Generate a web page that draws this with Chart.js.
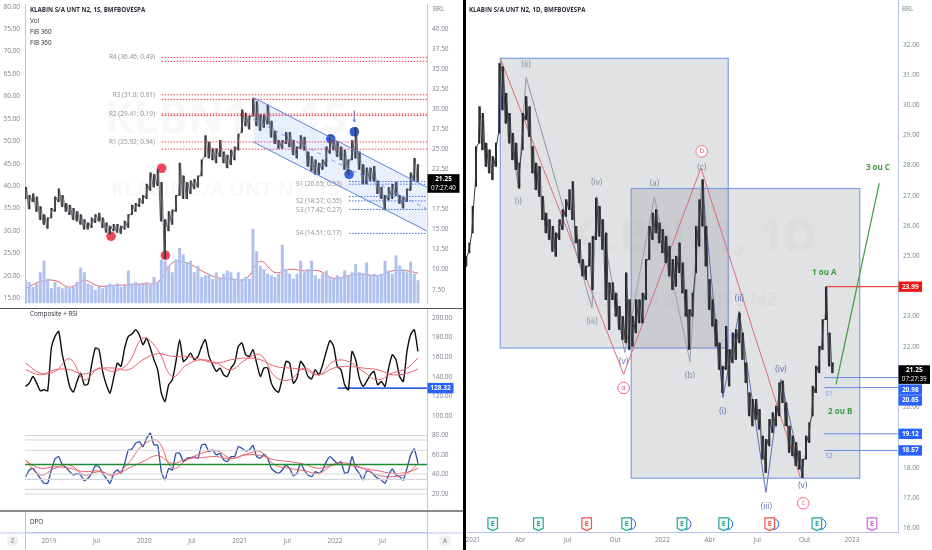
<!DOCTYPE html>
<html>
<head>
<meta charset="utf-8">
<script src="https://cdn.jsdelivr.net/npm/chart.js@4"></script>
<style>
  html, body { margin: 0; background: #fff; overflow: hidden; }
  canvas { position: absolute; }
  #divider { position: absolute; left: 463px; top: 0; width: 3px; height: 550px; background: #000; }
  .rule { position: absolute; left: 0; width: 463px; }
</style>
</head>
<body>
<canvas id="weeklyPrice" width="463" height="308" style="left:0;top:0"></canvas>
<canvas id="oscillators" width="463" height="202" style="left:0;top:308px"></canvas>
<canvas id="dpo" width="463" height="40" style="left:0;top:510px"></canvas>
<canvas id="dailyPrice" width="466" height="550" style="left:466px;top:0"></canvas>
<div class="rule" style="top:308px;height:1px;background:#555"></div>
<div class="rule" style="top:510px;height:2px;background:#8a8a8a"></div>
<div id="divider"></div>
<script>
// left panel, one bar every two weeks
const weekHigh = [20.27,19.26,19.46,19.06,17.85,16.85,16.44,17.65,19.06,20.07,19.26,18.25,18.05,17.65,17.25,16.85,16.24,15.84,16.44,16.85,17.05,16.44,15.84,15.44,15.64,15.64,15.44,16.04,16.85,18.05,18.25,18.86,19.26,20.67,22.08,21.88,22.48,20.87,16.24,17.25,17.45,19.26,23.29,21.68,20.87,21.07,21.27,21.68,23.69,26.71,25.91,25.10,25.10,26.11,24.70,24.29,24.90,25.30,26.91,29.93,29.53,29.13,31.34,30.94,29.33,29.33,30.54,28.52,27.31,26.11,26.11,27.11,27.11,26.11,25.30,26.71,26.51,24.70,24.09,23.69,23.29,23.69,25.30,26.71,26.31,25.91,25.30,24.90,23.69,26.11,27.72,24.70,23.09,22.68,22.68,22.88,21.07,20.27,19.26,20.27,20.67,20.87,19.26,19.06,20.07,22.08,23.89,23.09];
const weekLow = [18.86,17.57,18.46,17.25,16.24,15.64,15.15,16.44,17.25,18.46,17.85,17.25,16.85,16.24,16.04,15.64,15.03,15.03,15.24,15.84,16.04,15.24,14.63,14.43,14.83,14.63,14.51,15.03,15.24,16.85,17.25,17.85,18.25,18.86,19.86,20.27,20.47,16.04,11.41,14.83,15.64,17.25,19.26,18.86,18.86,19.46,20.07,20.27,21.68,24.09,23.89,23.69,23.29,24.09,23.29,22.68,23.09,23.69,24.90,27.11,27.92,27.52,29.13,27.92,27.31,27.72,28.12,26.51,25.70,25.10,25.10,25.70,25.30,24.29,23.89,25.10,24.90,22.88,22.28,21.88,21.88,22.48,22.88,24.50,24.90,24.09,23.69,22.48,21.88,23.69,23.89,22.48,20.67,20.67,21.07,21.07,19.46,18.86,17.45,18.66,18.86,19.26,18.25,17.65,18.46,19.86,21.07,20.95];
const weekVolume = [11.7,10.8,8.3,10,15.8,21.7,12.5,7.5,10.8,8.3,7.5,8.3,7.5,8.3,10.8,18.3,15.8,10,9.2,6.7,8.3,7.5,9.2,10,9.2,10,8.3,9.2,16.7,10,10.8,9.2,10,10.8,9.2,13.3,10.8,22.5,21.7,19.2,15.8,22.5,28.3,25,20.8,21.7,15.8,19.2,13.3,14.2,15,12.5,15.8,12.5,15,16.7,15.8,12.5,15.8,12.5,13.3,12.5,38.3,26.7,19.2,17.5,15,14.2,13.3,15,30,17.5,15,12.5,15,21.7,15.8,17.5,21.7,14.2,12.5,15,16.7,13.3,12.5,14.2,13.3,16.7,14.2,15.8,20,15.8,15,20.8,14.2,15,14.2,15,21.7,16.7,15,24.5,19.2,17.5,15.8,21.2,15,11.7];
const volumeAvg = [7.5,11.2,11.7,8.3,11.7,8.8,9.2,9.5,10,10.8,20.8,20.8,16.7,13.3,12.5,12.5,21.7,15.8,17.5,16.7,16.7,12.8,14.2,15,14.2,16.7,16.7,15.5];

const composite = [130.0,133.4,140.2,133.4,125.6,126.6,125.6,169.3,181.2,186.3,162.4,147.1,130.0,124.2,135.1,143.6,131.7,132.4,152.2,169.3,167.6,145.4,131.7,123.2,138.5,153.9,150.5,169.3,181.2,183.6,188.0,182.9,172.7,179.5,169.3,157.3,147.1,123.2,114.6,131.7,136.8,155.6,177.8,155.6,159.0,164.1,157.3,160.7,171.0,177.8,160.7,152.2,145.4,148.8,141.9,140.2,148.8,153.9,171.0,174.4,162.4,160.7,167.6,153.9,140.2,148.8,148.8,133.4,126.6,124.2,138.5,155.6,153.9,133.4,138.5,155.6,150.5,140.2,137.8,147.1,141.9,152.2,165.8,176.8,171.0,150.5,147.1,131.7,126.6,165.8,157.3,138.5,130.0,135.1,141.9,145.4,131.7,135.1,130.0,148.8,162.4,157.3,140.2,135.1,165.8,182.9,188.0,165.8];
const compositeSlow = [147.1,141.9,147.1,147.1,142.6,148.1,148.8,147.1,157.3,163.5,160.7,160.7,157.3,153.9,157.3,159.0,157.3,150.5,148.8,147.1,141.9,148.8,150.5,148.8,147.1,141.9,143.6,147.8];
const compositeFast = [153.9,143.6,145.4,158.3,136.8,148.8,145.4,153.9,179.5,167.6,140.2,152.2,157.3,153.9,147.1,157.3,162.4,140.2,136.8,148.8,141.9,155.6,155.6,145.4,136.8,143.6,148.8,159.0];
const rsi = [37.8,44.6,46.3,41.2,36.1,31.0,31.0,44.6,55.9,58.3,49.7,47.3,42.9,39.5,41.2,39.5,33.7,36.1,41.2,49.0,48.0,41.2,36.1,31.0,41.2,44.6,41.2,51.4,65.1,66.1,71.9,73.6,68.5,77.0,82.2,70.2,70.2,42.9,34.4,46.3,44.6,61.7,61.7,53.2,56.6,57.3,58.3,56.6,70.2,70.9,63.4,65.1,60.0,61.7,54.9,53.2,58.3,58.3,68.5,66.8,64.1,65.1,69.6,58.3,56.6,60.7,56.6,46.3,42.9,41.2,44.6,49.7,46.3,38.8,41.2,51.4,44.6,39.5,37.8,42.9,41.2,44.6,53.2,58.3,54.9,51.4,53.2,41.2,42.9,58.3,46.3,41.2,34.4,43.6,42.9,39.5,36.1,34.4,31.0,39.5,45.6,39.5,37.8,34.4,46.3,60.0,66.1,51.4];
const rsiSlow = [53.8,46.3,48.0,46.3,42.9,43.6,39.5,46.3,53.2,59.3,51.4,55.9,57.3,58.3,55.9,60.0,59.3,54.9,53.2,50.4,46.3,49.7,49.7,46.3,43.9,41.2,42.2,46.3];
const rsiFast = [54.9,39.5,46.3,49.7,39.5,42.9,39.5,51.4,70.2,74.3,46.3,54.9,61.7,64.4,56.6,60.7,63.4,49.7,46.3,43.9,41.2,50.4,51.4,46.3,39.5,37.8,41.2,51.4];
const rsiBands = [79.8,75.3,64.8,40.5,35,24.8,20];

const leftAxisTicks = [80,75,70,65,60,55,50,45,40,35,30,25,20,15];
const weekAxisTicks = [40,37.5,35,32.5,30,27.5,25,22.5,20,17.5,15,12.5,10,7.5];
const oscAxisTicks = [200,180,160,140,120,100,80,60,40,20];
const weekDates = [2019,2019.5,2020,2020.5,2021,2021.5,2022,2022.5];
const weekDateLabels = ["2019","Jul","2020","Jul","2021","Jul","2022","Jul"];

const resistanceNames = ["R4 (36.46; 0.49)","R3 (31.8; 0.61)","R2 (29.41; 0.19)","R1 (25.92; 0.94)"];
const resistanceLevels = [36.46,31.8,29.41,25.92];
const resistanceTwins = [35.97,31.22,29.21,25.02];
const supportNames = ["S1 (20.65; 0.53)","S2 (18.57; 0.55)","S3 (17.42; 0.27)","S4 (14.51; 0.17)"];
const supportLevels = [20.65,18.57,17.5,14.51];
const supportTwins = [20.98,19.12,null,null];

const channelDates = [2021.144,2022.963];
const channelUpper = [31.46,20.27];
const channelMiddle = [28.72,17.57];
const channelLower = [25.91,14.83];
const redDots = [[2019.651,14.15],[2020.182,22.64],[2020.221,11.77]];
const blueDots = [[2021.956,26.31],[2022.148,21.88],[2022.204,27.19]];

// right panel
const dayHigh = [24.99,25.44,26.65,28.63,29.95,29.73,28.74,28.52,28.30,28.74,31.38,31.27,30.39,29.73,29.07,28.74,28.08,29.73,30.28,29.95,28.63,28.08,27.97,26.98,26.43,26.21,25.99,25.77,26.21,26.54,26.87,27.20,27.47,25.99,25.55,24.89,24.67,25.44,25.66,26.92,26.65,26.21,25.77,24.12,24.12,23.78,23.34,23.01,24.45,23.56,23.01,23.56,23.56,23.78,24.89,25.99,26.43,26.54,26.10,25.88,25.66,25.33,24.89,25.00,25.44,24.78,23.89,23.23,23.78,25.99,26.87,27.53,25.99,24.23,23.56,22.90,22.13,21.36,22.68,21.91,22.46,22.57,23.12,22.46,21.47,20.48,20.26,20.26,19.93,19.05,18.94,19.60,19.82,20.04,20.81,20.87,20.15,19.38,19.05,18.83,18.55,18.28,19.05,19.49,20.70,21.36,22.02,22.90,23.98,22.46,21.47];
const dayLow = [24.67,25.11,25.77,27.31,28.74,28.52,27.97,27.75,27.53,27.97,29.07,29.84,29.40,28.74,28.19,27.86,27.25,28.52,29.51,28.96,27.75,27.20,26.98,26.21,25.77,25.55,25.16,24.99,25.55,25.88,26.32,26.54,26.21,25.44,24.78,24.34,24.23,24.67,23.89,25.55,25.66,25.22,23.56,22.57,23.56,23.01,22.57,22.24,22.13,21.91,22.02,22.46,22.79,22.79,23.56,24.89,25.55,25.77,25.44,25.11,24.78,24.34,23.89,24.00,24.45,23.78,23.01,21.91,23.01,24.45,25.33,25.99,24.67,23.23,22.68,22.02,21.25,20.48,21.25,20.70,21.47,21.58,22.13,21.58,20.81,19.71,19.38,19.60,19.27,18.28,17.84,18.72,19.16,19.38,19.71,20.15,19.38,18.50,18.39,18.06,17.95,17.67,18.28,18.83,19.71,20.48,21.14,21.91,22.90,21.36,21.14];
const dayAxisTicks = [32,31,30,29,28,27,26,25,24,23,22,21,20,19,18,17,16];
const dayDates = [2021,2021.25,2021.5,2021.75,2022,2022.25,2022.5,2022.75,2023];
const dayDateLabels = ["2021","Abr","Jul","Out","2022","Abr","Jul","Out","2023"];

const waveA = [[2021.144,31.55],[2021.795,21.09],[2022.203,27.92],[2022.727,17.68]];
const waveAbc = [[2021.801,21.82],[2021.957,26.96],[2022.145,21.51],[2022.207,27.53]];
const waveImpulse1 = [[2021.144,31.55],[2021.239,27.26],[2021.280,30.92],[2021.628,23.29],[2021.653,26.98],[2021.801,21.80]];
const waveImpulse2 = [[2022.207,27.53],[2022.319,20.32],[2022.405,23.18],[2022.546,17.18],[2022.625,20.92],[2022.740,17.68]];
const forecast = [[2022.916,20.76],[2023.144,27.42]];
const dayLevels = [20.98,20.65,19.12,18.57];
const earningsDates = [2021.104,2021.345,2021.600,2021.811,2022.103,2022.323,2022.566,2022.815,2023.106];
const earningsKinds = ["g","g","r","g","g","g","r","g","p"];
const earningsDividend = [0,0,0,1,1,1,1,1,0];

const FONT = '"Open Sans", sans-serif';
const AXIS = "#7b7f8c";
const EDGE = "#b9c4ee";
const SMALL = "6.3px " + FONT;
const weekX = (i) => 2018.755 + i * 0.03847;
const avgIdx = [0,4,8,12,16,20,24,28,32,36,40,44,48,52,56,60,64,68,72,76,80,84,88,92,96,100,104,107];
const dayX = (i) => 2020.963 + i * 0.01759;

const line = (pts, color, width, extra) => Object.assign({
  type: "line", data: pts.map((p) => ({ x: p[0], y: p[1] })), borderColor: color, borderWidth: width,
  pointRadius: 0, tension: 0, fill: false,
}, extra);

// low/high of each bar as one jagged path so the gaps between bars close up
const zigzag = (lows, highs, xOf, half) => {
  const pts = [];
  lows.forEach((lo, i) => {
    pts.push([xOf(i) - half, lo]);
    pts.push([xOf(i) + half, highs[i]]);
  });
  return pts;
};

const noPad = (s) => { s.paddingTop = 0; s.paddingBottom = 0; s.paddingLeft = 0; s.paddingRight = 0; };

// boxes, text, tags etc, all anchored on the chart scales
const notes = (cfg) => ({
  id: "notes",
  beforeDatasetsDraw(chart) {
    const { ctx } = chart;
    ctx.save();
    (cfg.water || []).forEach((w) => {
      ctx.font = w.font; ctx.fillStyle = "rgba(120,123,134,0.055)";
      ctx.textAlign = "center"; ctx.textBaseline = "middle";
      ctx.fillText(w.text, w.x, w.y);
    });
    const sx = chart.scales.x, sy = chart.scales.y;
    (cfg.boxes || []).forEach((b) => {
      const x = sx.getPixelForValue(b[0]), y = sy.getPixelForValue(b[1]);
      const w = sx.getPixelForValue(b[2]) - x, h = sy.getPixelForValue(b[3]) - y;
      ctx.fillStyle = "rgba(120,123,134,0.22)";
      ctx.fillRect(x, y, w, h);
      ctx.strokeStyle = "#7d9ee6"; ctx.lineWidth = 1.2;
      ctx.strokeRect(x, y, w, h);
    });
    ctx.restore();
  },
  afterDraw(chart) {
    const { ctx, chartArea: a } = chart;
    const sx = chart.scales.x, sy = chart.scales.y;
    ctx.save();
    (cfg.rings || []).forEach((r) => {
      const x = sx.getPixelForValue(r.x), y = sy.getPixelForValue(r.y);
      ctx.beginPath(); ctx.arc(x, y, 5.8, 0, Math.PI * 2);
      ctx.fillStyle = "#fff"; ctx.fill();
      ctx.strokeStyle = "#ec6a80"; ctx.lineWidth = 1; ctx.stroke();
      ctx.fillStyle = "#e0607a"; ctx.font = "7.5px " + FONT;
      ctx.textAlign = "center"; ctx.textBaseline = "middle";
      ctx.fillText(r.text, x, y);
    });
    (cfg.labels || []).forEach((l) => {
      ctx.fillStyle = l.color; ctx.font = l.font;
      ctx.textAlign = l.align || "center"; ctx.textBaseline = "middle";
      ctx.fillText(l.text, sx.getPixelForValue(l.x), sy.getPixelForValue(l.y));
    });
    (cfg.earnings || []).forEach((e) => {
      const x = sx.getPixelForValue(e.x), y = sy.getPixelForValue(16.13);
      const c = { g: "#26a69a", r: "#ef5350", p: "#d667e4" }[e.kind];
      if (e.dividend) {
        ctx.beginPath(); ctx.arc(x + 3.5, y, 5.5, 0, Math.PI * 2);
        ctx.fillStyle = "#fff"; ctx.fill();
        ctx.strokeStyle = "#2962ff"; ctx.lineWidth = 1; ctx.stroke();
      }
      ctx.beginPath();
      ctx.moveTo(x - 4.8, y - 6.3); ctx.lineTo(x + 4.8, y - 6.3); ctx.lineTo(x + 4.8, y + 4.2);
      ctx.lineTo(x, y + 6.5); ctx.lineTo(x - 4.8, y + 4.2); ctx.closePath();
      ctx.fillStyle = "#f4f8f7"; ctx.fill();
      ctx.strokeStyle = c; ctx.lineWidth = 1.2; ctx.stroke();
      ctx.fillStyle = c; ctx.font = "bold 7px " + FONT;
      ctx.textAlign = "center"; ctx.textBaseline = "middle";
      ctx.fillText("E", x, y - 0.5);
    });
    (cfg.tags || []).forEach((t) => {
      const y = sy.getPixelForValue(t.y) + (t.shift || 0);
      const h = t.sub ? 18.6 : 10.4, top = t.sub ? y - 5.2 : y - h / 2;
      ctx.fillStyle = t.bg;
      ctx.fillRect(a.right + 0.5, top, t.w, h);
      ctx.fillStyle = "#fff"; ctx.font = "bold 6.5px " + FONT;
      ctx.textAlign = "center"; ctx.textBaseline = "middle";
      const mid = a.right + 0.5 + t.w / 2;
      ctx.fillText(t.text, mid, t.sub ? y : y + 0.2);
      if (t.sub) {
        ctx.font = "6.3px " + FONT;
        ctx.fillText(t.sub, mid, y + 8.4);
      }
    });
    (cfg.free || []).forEach((f) => {
      ctx.fillStyle = f.color; ctx.font = f.font;
      ctx.textAlign = f.align || "left"; ctx.textBaseline = "middle";
      ctx.fillText(f.text, f.x, f.y);
    });
    ctx.restore();
  },
});

const xScale = (min, max) => ({ type: "linear", min, max, offset: false, display: false, grid: { display: false } });
const tickFont = { family: "Open Sans", size: 6.5 };
const priceAxis = (position, min, max, ticks, width, digits) => ({
  type: "linear", position, min, max, display: true,
  grid: { display: false, drawTicks: false },
  border: { display: true, color: EDGE, width: 1 },
  afterBuildTicks: (s) => { s.ticks = ticks.map((v) => ({ value: v })); },
  afterFit: (s) => { s.width = width; noPad(s); },
  ticks: { color: AXIS, font: tickFont, padding: 5, autoSkip: false, maxRotation: 0,
    callback: (v) => Number(v).toFixed(digits) },
});
const dateAxis = (min, max, dates, labels, height, pad) => ({
  type: "linear", min, max, offset: false,
  grid: { display: false, drawTicks: false },
  border: { display: true, color: EDGE },
  afterBuildTicks: (s) => { s.ticks = dates.map((v) => ({ value: v })); },
  afterFit: (s) => { s.height = height; noPad(s); },
  ticks: { color: AXIS, font: tickFont, padding: pad, maxRotation: 0, autoSkip: false,
    callback: (v) => labels[dates.indexOf(v)] },
});
const base = {
  responsive: false, animation: false, events: [],
  plugins: { legend: { display: false }, tooltip: { enabled: false } },
};

// ---- weekly price
const fibStart = 2020.182, fibEnd = 2022.97, supStart = 2022.148;
const fibLines = [];
resistanceLevels.concat(resistanceTwins).forEach((v) => {
  fibLines.push(line([[fibStart, v], [fibEnd, v]], "#ec3b47", 1, { yAxisID: "y", borderDash: [1.5, 1.5] }));
});
supportLevels.concat(supportTwins).forEach((v) => {
  if (v === null) return;
  fibLines.push(line([[supStart, v], [fibEnd, v]], "#3f6fe0", 1, { yAxisID: "y", borderDash: [1.5, 1.5] }));
});
const fibLabels = [];
resistanceNames.forEach((t, i) => fibLabels.push({ text: t, x: 2020.112, y: resistanceLevels[i], color: "#8a8d98", font: "6.5px " + FONT, align: "right" }));
supportNames.forEach((t, i) => fibLabels.push({ text: t, x: 2022.071, y: [20.65, 18.57, 17.42, 14.51][i], color: "#8a8d98", font: "6.5px " + FONT, align: "right" }));

new Chart(document.getElementById("weeklyPrice"), {
  data: {
    datasets: [
      { type: "bar", yAxisID: "v", grouped: false, barThickness: 2.3, backgroundColor: "#adc0ef",
        data: weekVolume.map((v, i) => ({ x: weekX(i), y: v })) },
      line(avgIdx.map((k, i) => [weekX(k), volumeAvg[i]]), "#e2626c", 1, { yAxisID: "v", tension: 0.4 }),
      line(channelDates.map((d, i) => [d, channelUpper[i]]), "#5f82d8", 1, { yAxisID: "y", fill: "+1", backgroundColor: "rgba(90,130,230,0.13)" }),
      line(channelDates.map((d, i) => [d, channelLower[i]]), "#5f82d8", 1, { yAxisID: "y" }),
      line(channelDates.map((d, i) => [d, channelMiddle[i]]), "#7d9ae0", 1, { yAxisID: "y", borderDash: [4, 4] }),
      ...fibLines,
      line(zigzag(weekLow, weekHigh, weekX, 0.0096), "#55575c", 0.9, { yAxisID: "y" }),
      { type: "bar", yAxisID: "y", grouped: false, barThickness: 1.2, backgroundColor: "#2c2d31",
        data: weekHigh.map((h, i) => ({ x: weekX(i), y: [weekLow[i], h] })) },
      line([[2022.204, 29.81], [2022.204, 28.7]], "#7d9ae0", 1, { yAxisID: "y" }),
      line([[2022.204, 28.6]], "#5f82d8", 1, { yAxisID: "y", pointRadius: 2, pointStyle: "triangle", rotation: 180, pointBackgroundColor: "#5f82d8", pointBorderWidth: 0 }),
      line(redDots, "#ef3f4b", 0, { yAxisID: "y", showLine: false, pointRadius: 4.8, pointBackgroundColor: "rgba(238,55,70,0.92)", pointBorderWidth: 0 }),
      line(blueDots, "#1e50dc", 0, { yAxisID: "y", showLine: false, pointRadius: 4.8, pointBackgroundColor: "rgba(30,80,220,0.92)", pointBorderWidth: 0 }),
    ],
  },
  options: {
    ...base,
    scales: {
      x: xScale(2018.748, 2022.966),
      l: priceAxis("left", 13.9, 80.43, leftAxisTicks, 25, 2),
      y: priceAxis("right", 5.81, 43.02, weekAxisTicks, 36, 2),
      v: { type: "linear", min: 0, max: 154, display: false },
    },
  },
  plugins: [notes({
    water: [
      { text: "KLBN11, 1S", x: 226, y: 120, font: "bold 44px " + FONT },
      { text: "KLABIN S/A UNT N2, 1S", x: 225, y: 190, font: "bold 20px " + FONT },
    ],
    labels: fibLabels,
    tags: [{ y: 21.25, text: "21.25", sub: "07:27:40", bg: "#000", w: 32 }],
    free: [
      { text: "KLABIN S/A UNT N2, 1S, BMFBOVESPA", x: 30, y: 10, color: "#2a2e39", font: "bold 6.2px " + FONT },
      { text: "Vol", x: 30, y: 21, color: "#2a2e39", font: SMALL },
      { text: "FIB 360", x: 30, y: 32, color: "#2a2e39", font: SMALL },
      { text: "FIB 360", x: 30, y: 43, color: "#2a2e39", font: SMALL },
      { text: "BRL", x: 433, y: 9, color: AXIS, font: SMALL },
    ],
  })],
});

// ---- composite + rsi
const bandLines = rsiBands.map((v) => line([[2018.748, v], [2022.966, v]], "#d4d5d9", 1.1));
new Chart(document.getElementById("oscillators"), {
  data: {
    datasets: [
      ...bandLines,
      line([[2018.748, 50.1], [2022.966, 50.1]], "#1d8a2e", 1.5),
      line(avgIdx.map((k, i) => [weekX(k), compositeSlow[i]]), "#e8626c", 1, { tension: 0.4 }),
      line(avgIdx.map((k, i) => [weekX(k), compositeFast[i]]), "#e8626c", 1, { tension: 0.4 }),
      line(composite.map((v, i) => [weekX(i), v]), "#0c0c0c", 1.4, { tension: 0.2 }),
      line([[2022.03, 128.32], [2022.966, 128.32]], "#2f66dc", 1.7),
      line(avgIdx.map((k, i) => [weekX(k), rsiSlow[i]]), "#e8626c", 1, { tension: 0.4 }),
      line(avgIdx.map((k, i) => [weekX(k), rsiFast[i]]), "#e8626c", 1, { tension: 0.4 }),
      line(rsi.map((v, i) => [weekX(i), v]), "#2a4fa6", 1.3, { tension: 0.15 }),
    ],
  },
  options: {
    ...base,
    layout: { padding: { left: 25 } },
    scales: {
      x: xScale(2018.748, 2022.966),
      y: priceAxis("right", 3.7, 210.2, oscAxisTicks, 36, 2),
    },
  },
  plugins: [notes({
    tags: [{ y: 128.32, text: "128.32", bg: "#2962ff", w: 26 }],
    free: [{ text: "Composite + RSI", x: 30, y: 6.5, color: "#2a2e39", font: SMALL }],
  })],
});

// ---- dpo strip and date axis
new Chart(document.getElementById("dpo"), {
  data: { datasets: [line([], "#000", 0)] },
  options: {
    ...base,
    layout: { padding: { left: 25, right: 36 } },
    scales: {
      x: dateAxis(2018.748, 2022.966, weekDates, weekDateLabels, 17.5, 5),
      y: { display: false, min: 0, max: 1 },
    },
  },
  plugins: [{
    id: "strip",
    afterDraw(chart) {
      const { ctx, chartArea: a } = chart;
      ctx.save();
      ctx.strokeStyle = EDGE; ctx.beginPath();
      ctx.moveTo(a.left + 0.5, 2); ctx.lineTo(a.left + 0.5, 40);
      ctx.moveTo(a.right + 0.5, 2); ctx.lineTo(a.right + 0.5, 40);
      ctx.moveTo(0, a.bottom + 0.5); ctx.lineTo(463, a.bottom + 0.5);
      ctx.stroke();
      ctx.fillStyle = "#2a2e39"; ctx.font = SMALL;
      ctx.textBaseline = "middle"; ctx.textAlign = "left";
      ctx.fillText("DPO", 30, 12);
      [[12.5, "Z"], [445, "A"]].forEach(([x, t]) => {
        ctx.beginPath(); ctx.arc(x, 31, 6, 0, Math.PI * 2);
        ctx.fillStyle = "#eef0f3"; ctx.fill();
        ctx.fillStyle = "#7b7f8c"; ctx.textAlign = "center";
        ctx.fillText(t, x, 31);
      });
      ctx.restore();
    },
  }],
});

// ---- daily price with the wave count
const blueText = "#5a6bb0", grayText = "#8088a4";
const waveFont = "8.3px " + FONT, greenFont = "bold 8px " + FONT;
const dayLine = (v, from, color) => line([[from, v], [2023.243, v]], color, 1);

new Chart(document.getElementById("dailyPrice"), {
  data: {
    datasets: [
      line(zigzag(dayLow, dayHigh, dayX, 0.0044), "#3a3b40", 1),
      { type: "bar", grouped: false, barThickness: 1.3, backgroundColor: "#1e1f23",
        data: dayHigh.map((h, i) => ({ x: dayX(i), y: [dayLow[i], h] })) },
      line(waveImpulse1, "#8f93ab", 1),
      line(waveAbc, "#9a9db0", 1),
      line(waveImpulse2, "#5d6fb8", 1),
      line(waveA, "#e2687e", 1),
      line(forecast, "#3f9c3f", 1.2),
      dayLine(23.99, 2022.863, "#ee2020"),
      ...dayLevels.map((v) => dayLine(v, 2022.854, "#5f8ae8")),
    ],
  },
  options: {
    ...base,
    scales: {
      x: dateAxis(2020.963, 2023.243, dayDates, dayDateLabels, 18, 4),
      y: priceAxis("right", 15.87, 33.48, dayAxisTicks, 34, 2),
    },
  },
  plugins: [notes({
    water: [
      { text: "KLBN11, 1D", x: 225, y: 238, font: "bold 44px " + FONT },
      { text: "KLABIN S/A UNT N2", x: 215, y: 300, font: "bold 20px " + FONT },
    ],
    boxes: [[2021.144, 31.55, 2022.347, 21.96], [2021.835, 27.24, 2023.041, 17.65]],
    rings: [{ text: "b", x: 2022.207, y: 28.47 }, { text: "a", x: 2021.795, y: 20.64 }, { text: "c", x: 2022.743, y: 16.82 }],
    labels: [
      { text: "(ii)", x: 2021.280, y: 31.35, color: grayText, font: waveFont },
      { text: "(i)", x: 2021.239, y: 26.79, color: grayText, font: waveFont },
      { text: "(iv)", x: 2021.653, y: 27.42, color: grayText, font: waveFont },
      { text: "(iii)", x: 2021.628, y: 22.83, color: grayText, font: waveFont },
      { text: "(v)", x: 2021.795, y: 21.51, color: blueText, font: waveFont },
      { text: "(a)", x: 2021.957, y: 27.39, color: grayText, font: waveFont },
      { text: "(b)", x: 2022.145, y: 21.06, color: grayText, font: waveFont },
      { text: "(c)", x: 2022.207, y: 27.94, color: grayText, font: waveFont },
      { text: "(i)", x: 2022.318, y: 19.86, color: blueText, font: waveFont },
      { text: "(ii)", x: 2022.405, y: 23.60, color: blueText, font: waveFont },
      { text: "(iii)", x: 2022.548, y: 16.72, color: blueText, font: waveFont },
      { text: "(iv)", x: 2022.625, y: 21.23, color: blueText, font: waveFont },
      { text: "(v)", x: 2022.740, y: 17.40, color: blueText, font: waveFont },
      { text: "S1", x: 2022.879, y: 20.43, color: "#6f8fe0", font: "6.5px " + FONT },
      { text: "S2", x: 2022.879, y: 18.37, color: "#6f8fe0", font: "6.5px " + FONT },
      { text: "1 ou A", x: 2022.854, y: 24.45, color: "#3f9c3f", font: greenFont },
      { text: "3 ou C", x: 2023.137, y: 27.94, color: "#3f9c3f", font: greenFont },
      { text: "2 ou B", x: 2022.938, y: 19.84, color: "#3f9c3f", font: greenFont },
    ],
    earnings: earningsDates.map((d, i) => ({ x: d, kind: earningsKinds[i], dividend: earningsDividend[i] })),
    tags: [
      { y: 23.99, text: "23.99", bg: "#f01616", w: 23.5 },
      { y: 21.25, text: "21.25", sub: "07:27:39", bg: "#000", w: 31.5, shift: 1 },
      { y: 20.98, text: "20.98", bg: "#2962ff", w: 23.5, shift: 12 },
      { y: 20.65, text: "20.65", bg: "#2962ff", w: 23.5, shift: 12.8 },
      { y: 19.12, text: "19.12", bg: "#2962ff", w: 23.5 },
      { y: 18.57, text: "18.57", bg: "#2962ff", w: 23.5 },
    ],
    free: [
      { text: "KLABIN S/A UNT N2, 1D, BMFBOVESPA", x: 3, y: 10, color: "#2a2e39", font: "bold 6.2px " + FONT },
      { text: "BRL", x: 436, y: 9, color: AXIS, font: SMALL },
    ],
  })],
});
</script>
</body>
</html>
